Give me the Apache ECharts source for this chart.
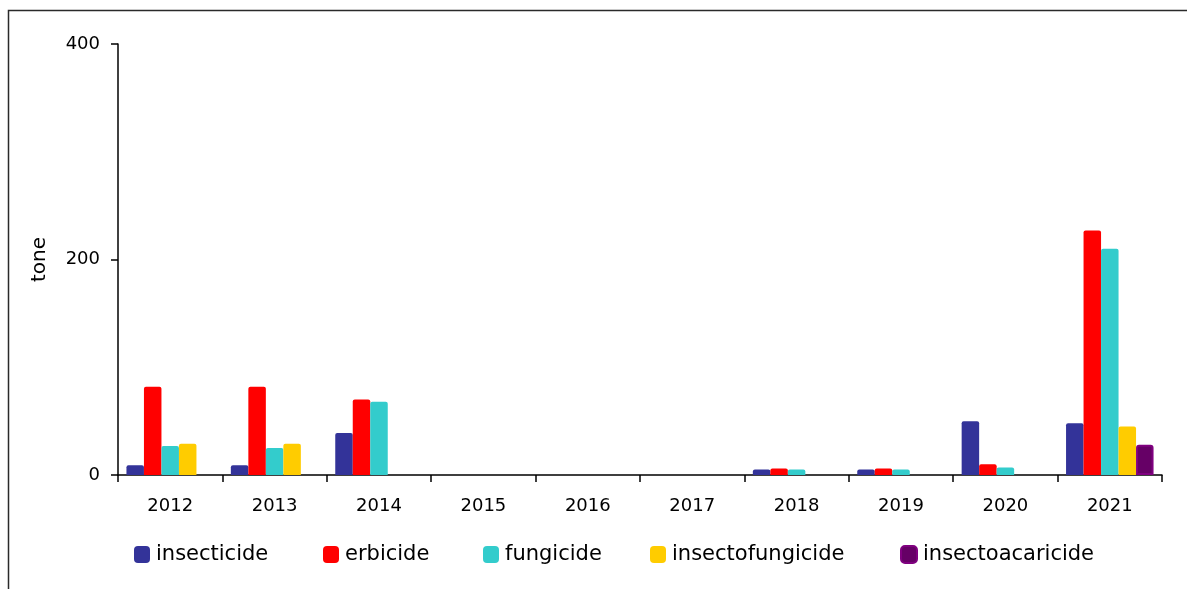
<!DOCTYPE html>
<html>
<head>
<meta charset="utf-8">
<title>Pesticide quantities by year</title>
<script src="https://cdn.jsdelivr.net/npm/echarts@6/dist/echarts.min.js"></script>
<style>
  html, body { margin: 0; padding: 0; background: #ffffff; }
  #chart { width: 1187px; height: 589px; }
</style>
</head>
<body>
<div id="chart"></div>
<script>
// Years on the category axis
const years = ['2012', '2013', '2014', '2015', '2016', '2017', '2018', '2019', '2020', '2021'];

// Quantities in tonnes per product group
const insecticide      = [9, 9, 39, 0, 0, 0, 5, 5, 50, 48];
const erbicide         = [82, 82, 70, 0, 0, 0, 6, 6, 10, 227];
const fungicide        = [27, 25, 68, 0, 0, 0, 5, 5, 7, 210];
const insectofungicide = [29, 29, 0, 0, 0, 0, 0, 0, 0, 45];
const insectoacaricide = [0, 0, 0, 0, 0, 0, 0, 0, 0, 28];

// Value axis ticks
const yTicks = [0, 200, 400];

const FONT = 'DejaVu Sans';

const seriesDefs = [
  { name: 'insecticide',      data: insecticide,      color: '#333399' },
  { name: 'erbicide',         data: erbicide,         color: '#FF0000' },
  { name: 'fungicide',        data: fungicide,        color: '#33CCCC' },
  { name: 'insectofungicide', data: insectofungicide, color: '#FFCC00' },
  { name: 'insectoacaricide', data: insectoacaricide, color: '#660066', border: '#800080' }
];

// One legend block per series so each entry sits at its own spot
const legendLefts = [134, 323, 483, 650, 900];

const chart = echarts.init(document.getElementById('chart'), null, { renderer: 'canvas' });

chart.setOption({
  animation: false,
  backgroundColor: '#ffffff',
  graphic: [{
    type: 'rect',
    shape: { x: 8.5, y: 10.5, width: 1200, height: 620 },
    style: { fill: 'none', stroke: '#2a2a2a', lineWidth: 1.5 },
    silent: true
  }],
  grid: { left: 118, right: 25, top: 44, bottom: 114, containLabel: false },
  legend: seriesDefs.map((s, i) => ({
    data: [s.name],
    left: legendLefts[i],
    top: 544,
    icon: 'roundRect',
    itemWidth: 16,
    itemHeight: 17,
    itemGap: 0,
    padding: 0,
    selectedMode: false,
    textStyle: { fontFamily: FONT, fontSize: 21, color: '#000000', padding: [0, 0, 0, 1] }
  })),
  xAxis: {
    type: 'category',
    data: years,
    boundaryGap: true,
    axisLine: { show: true, lineStyle: { color: '#000000', width: 1.5 } },
    axisTick: { show: true, length: 7, interval: 0, lineStyle: { color: '#000000', width: 1.5 } },
    axisLabel: { fontFamily: FONT, fontSize: 18, color: '#000000', margin: 22, interval: 0 },
    splitLine: { show: false }
  },
  yAxis: {
    type: 'value',
    min: yTicks[0],
    max: yTicks[yTicks.length - 1],
    interval: yTicks[1] - yTicks[0],
    name: 'tone',
    nameLocation: 'middle',
    nameRotate: 90,
    nameGap: 68,
    nameTextStyle: { fontFamily: FONT, fontSize: 20, color: '#000000' },
    axisLine: { show: true, lineStyle: { color: '#000000', width: 1.5 } },
    axisTick: { show: true, length: 7, inside: false, lineStyle: { color: '#000000', width: 1.5 } },
    axisLabel: { fontFamily: FONT, fontSize: 18, color: '#000000', margin: 18 },
    splitLine: { show: false }
  },
  series: seriesDefs.map(s => ({
    name: s.name,
    type: 'bar',
    // zero quantities get no outline so nothing shows on the baseline
    data: s.data.map(v => v > 0 ? v : { value: v, itemStyle: { borderWidth: 0, opacity: 0 } }),
    barWidth: 17.5,
    barGap: '0%',
    itemStyle: {
      color: s.color,
      borderColor: s.border || s.color,
      borderWidth: s.border ? 2 : 0,
      borderRadius: [2, 2, 0, 0]
    }
  }))
});
</script>
</body>
</html>
